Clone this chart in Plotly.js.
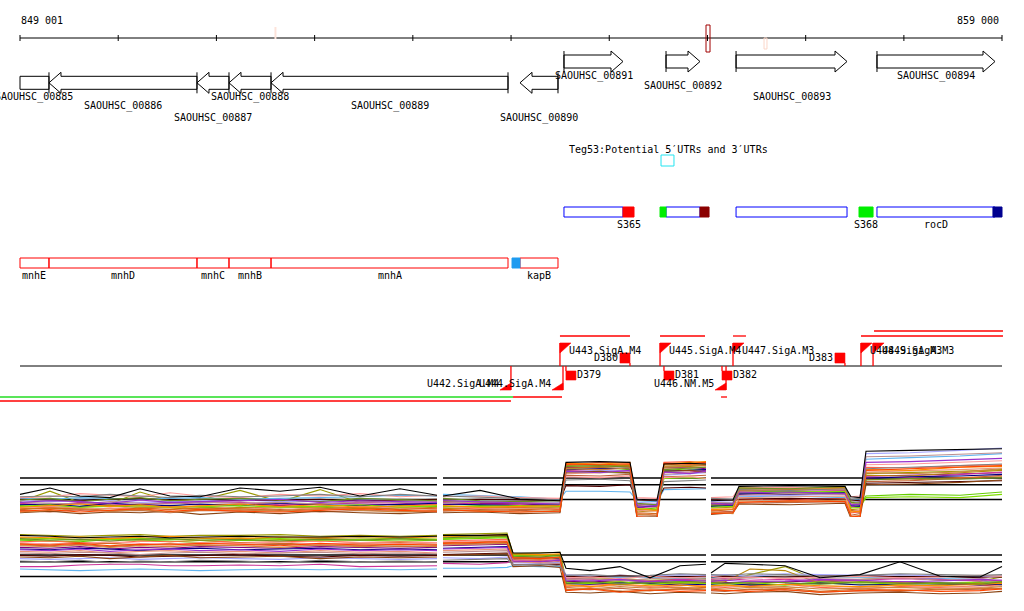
<!DOCTYPE html>
<html><head><meta charset="utf-8">
<script src="https://cdn.plot.ly/plotly-3.0.1.min.js"></script>
<style>html,body{margin:0;padding:0;background:#fff}#chart{width:1024px;height:611px}</style>
</head><body><div id="chart"></div>
<script>
// ================= DATA =================
const viewStart = 849001, viewEnd = 859000;
const rulerTicks = [849001,850001,851001,852001,853001,854001,855001,856001,857001,858001,859000];
const rulerLabels = ['849 001', '859 000'];

// variant / selection marks on the ruler
const siteStart = [851592, 856577, 855986];
const siteEnd   = [851612, 856607, 856027];
const siteKind  = ['snpUp', 'snpDown', 'selected'];

// genes
const geneName   = ['SAOUHSC_00885','SAOUHSC_00886','SAOUHSC_00887','SAOUHSC_00888','SAOUHSC_00889','SAOUHSC_00890','SAOUHSC_00891','SAOUHSC_00892','SAOUHSC_00893','SAOUHSC_00894'];
const geneSymbol = ['mnhE','mnhD','mnhC','mnhB','mnhA','kapB','','','','rocD'];
const geneStart  = [848850, 849296, 850803, 851129, 851557, 854092, 854540, 855579, 856292, 857727];
const geneEnd    = [849296, 850803, 851129, 851557, 853970, 854479, 855141, 855925, 857422, 858929];
const geneStrand = ['-','-','-','-','-','-','+','+','+','+'];

// UTRs
const utrName   = ['', 'S365', '', '', 'S368', ''];
const utrStart  = [854011, 855141, 855518, 855925, 857544, 858908];
const utrEnd    = [854092, 855253, 855579, 856017, 857687, 859000];
const utrStrand = ['-', '+', '+', '+', '+', '+'];

// sRNA Teg53
const srnaTitle = 'Teg53:Potential 5\u2032UTRs and 3\u2032UTRs';
const srnaStart = 855528, srnaEnd = 855660;

// promoters & terminators
const promName   = ['U442.SigA.M4','U443.SigA.M4','U444.SigA.M4','U445.SigA.M4','U446.NM.M5','U447.SigA.M3','U448.SigA.M3','U449.SigA.M3'];
const promPos    = [854000, 854499, 854530, 855518, 856190, 856261, 857564, 857687];
const promStrand = ['-','+','-','+','-','+','+','+'];
const termName   = ['D379','D380','D381','D382','D383'];
const termPos    = [854560, 855212, 855558, 856149, 857401];
const termStrand = ['-','+','-','-','+'];

// transcription units
const tuStart  = [854499, 855518, 856261, 857564, 857697, 848797, 854021, 856139, 848797];
const tuEnd    = [855212, 855976, 856393, 859010, 859010, 854021, 854520, 856200, 854000];
const tuStrand = ['+','+','+','+','+','-','-','-','-'];
const tuLane   = [0,0,0,0,1,0,0,0,1];
const tuClass  = ['pred','pred','pred','pred','pred','known','pred','pred','pred'];

// expression profiles (log2 level), condition panels A and B
const thresholds = [9.25, 8.4, 6.55];
const breakStart = [853247, 855986];
const breakEnd   = [853308, 856037];
const exprXA = [849001,849306,849612,849917,850223,850528,850834,851241,851648,852056,852463,852870,853247,null,
  853308,853685,854092,854499,854560,854907,855212,855283,855487,855558,855823,855986,null,
  856037,856261,856322,856841,857401,857462,857554,857615,858063,858572,859000];
const A01 = [7.2,8.0,7.0,6.8,7.9,7.0,6.9,8.0,7.6,8.1,7.0,7.9,7.1,null, 7.0,7.7,6.6,6.4, 11.2,11.3,11.2, 6.6,6.5, 11.0,11.1,11.0,null, 6.4,6.5, 8.2,8.3,8.2, 6.9,6.8, 12.6,12.7,12.8,12.9];
const A02 = [6.3,7.6,6.2,6.0,7.5,6.4,6.5,7.7,6.3,7.8,6.2,6.6,6.5,null, 6.3,6.2,6.1,6.0, 11.0,10.9,10.8, 5.8,5.6, 10.7,10.8,10.9,null, 6.1,6.2, 8.1,8.0,7.9, 6.3,6.2, 9.8,9.9,10.1,10.3];
const A03 = [5.8,5.6,5.7,5.9,5.5,5.8,5.6,5.5,5.7,5.6,5.4,5.8,5.7,null, 5.6,5.8,5.7,5.9, 10.4,10.6,10.3, 5.3,5.5, 10.2,10.4,10.3,null, 5.8,5.9, 7.5,7.6,7.4, 5.6,5.8, 7.0,7.2,7.1,7.5];
const A04 = [5.4,5.6,5.2,5.5,5.3,5.7,5.4,5.2,5.6,5.5,5.3,5.6,5.4,null, 5.5,5.4,5.6,5.3, 10.9,11.2,11.1, 4.8,4.6, 11.2,11.3,11.1,null, 5.2,5.0, 6.6,6.5,6.7, 4.9,5.0, 10.6,10.5,10.8,10.9];
const A05 = [6.0,5.9,6.1,5.8,6.0,6.2,5.9,6.0,5.8,6.1,6.0,5.9,6.0,null, 5.9,6.1,6.0,5.8, 10.6,10.5,10.4, 5.9,6.0, 10.5,10.6,10.4,null, 6.0,5.9, 7.2,7.4,7.3, 6.0,5.9, 9.5,9.6,9.8,9.9];
const A06 = [6.7,6.6,6.8,6.7,6.6,6.7,6.8,6.6,6.7,6.8,6.9,7.1,7.0,null, 7.2,7.1,6.9,6.6, 7.6,7.6,7.5, 6.4,6.3, 7.8,7.9,7.9,null, 6.5,6.6, 6.9,7.0,6.8, 6.6,6.5, 11.6,11.8,12.0,12.3];
const A07 = [6.1,5.8,6.2,6.0,5.9,6.1,6.3,6.2,5.9,6.0,6.2,6.1,5.9,null, 6.2,6.0,5.9,5.7, 10.2,10.3,10.1, 5.5,5.7, 9.9,10.0,10.2,null, 5.9,6.0, 7.6,7.8,7.7, 5.7,5.6, 9.4,9.3,9.7,10.0];
const A08 = [6.4,6.3,6.5,6.4,6.2,6.3,6.4,6.5,6.3,6.4,6.5,6.6,6.4,null, 6.6,6.5,6.3,6.2, 10.0,10.2,10.1, 6.2,6.1, 9.6,9.8,9.9,null, 6.3,6.2, 7.0,7.1,7.2, 6.2,6.3, 12.3,12.4,12.7,13.0];
const A09 = [5.2,5.0,5.3,5.1,5.2,4.9,5.2,5.1,5.3,5.0,5.2,5.1,5.0,null, 5.1,5.3,5.2,5.0, 9.6,9.5,9.7, 4.5,4.5, 9.4,9.5,9.6,null, 4.9,5.1, 6.1,6.2,6.3, 4.6,4.8, 8.8,8.9,9.2,9.6];
const A10 = [5.5,5.4,5.6,5.8,5.6,5.5,5.3,5.6,5.5,5.7,5.5,5.4,5.6,null, 5.4,5.6,5.5,5.6, 10.8,10.7,10.9, 5.0,5.2, 10.6,10.7,10.8,null, 5.5,5.6, 7.9,8.0,8.1, 5.3,5.4, 9.6,9.5,9.9,10.2];
const A11 = [5.9,6.0,5.7,6.1,5.9,5.8,6.0,5.8,6.1,5.9,5.8,6.0,6.1,null, 6.0,5.9,5.8,5.9, 10.3,10.4,10.5, 5.6,5.8, 10.1,10.2,10.3,null, 5.7,5.8, 7.3,7.2,7.4, 5.8,5.7, 9.2,9.4,9.5,9.7];
const A12 = [6.6,6.5,6.4,6.6,6.7,6.5,6.6,6.4,6.5,6.6,6.4,6.5,6.6,null, 6.5,6.6,6.5,6.4, 8.3,8.2,8.4, 6.5,6.4, 8.0,8.1,8.0,null, 6.6,6.5, 6.6,6.7,6.6, 6.5,6.4, 8.6,8.7,8.8,8.9];
const A13 = [5.6,5.7,5.5,5.4,5.7,5.6,5.8,5.4,5.6,5.3,5.7,5.5,5.3,null, 5.7,5.5,5.4,5.5, 9.8,9.9,10.0, 5.2,5.1, 10.4,10.5,10.6,null, 5.4,5.3, 6.8,6.9,7.0, 5.1,5.2, 10.0,10.1,10.3,10.5];
const A14 = [5.3,5.5,5.4,5.2,5.5,5.3,5.5,5.4,5.2,5.4,5.6,5.3,5.5,null, 5.3,5.2,5.3,5.4, 10.5,10.6,10.7, 4.9,4.8, 10.9,11.0,10.8,null, 5.1,5.3, 7.7,7.8,7.9, 5.2,5.0, 9.1,9.0,9.3,9.4];
const A15 = [6.2,6.1,6.0,6.3,6.1,6.0,6.2,6.1,6.2,6.0,6.3,6.2,6.3,null, 6.1,6.3,6.2,6.1, 9.9,10.0,9.8, 6.0,5.9, 9.7,9.9,10.0,null, 6.2,6.1, 7.1,7.3,7.2, 6.1,6.0, 11.9,12.0,12.2,12.4];
const A16 = [5.7,5.9,5.6,5.7,5.8,5.6,5.7,5.8,5.6,5.7,5.9,5.6,5.8,null, 5.7,5.7,5.8,5.7, 10.1,10.0,9.9, 5.4,5.3, 9.2,9.3,9.2,null, 5.6,5.7, 7.4,7.5,7.6, 5.5,5.6, 6.8,6.9,6.8,7.2];
const A17 = [6.8,6.9,7.3,7.1,6.9,7.4,7.0,6.8,7.2,7.0,7.3,6.9,7.1,null, 6.9,7.0,6.8,6.7, 9.4,9.3,9.5, 6.8,6.7, 9.3,9.4,9.2,null, 6.8,6.9, 8.0,8.1,7.9, 6.9,7.0, 10.9,11.0,11.2,11.4];
const A18 = [4.9,5.1,4.8,5.0,4.9,5.1,4.7,5.0,4.8,5.1,4.9,4.8,5.0,null, 4.9,5.0,4.8,4.9, 10.0,10.1,9.9, 4.3,4.4, 10.1,10.2,10.0,null, 4.7,4.9, 6.0,5.9,6.1, 4.2,4.3, 8.4,8.5,8.7,9.0];
const A19 = [5.6,5.8,6.0,5.7,5.9,5.6,5.8,6.0,5.7,5.9,5.6,5.8,5.9,null, 5.8,5.6,5.7,5.8, 11.1,11.0,11.2, 5.4,5.2, 11.0,11.2,11.3,null, 5.3,5.4, 7.8,7.7,8.0, 5.0,5.1, 10.3,10.2,10.6,10.7];
const A20 = [6.5,6.7,6.3,6.6,6.8,6.4,6.6,6.7,6.5,6.3,6.7,6.5,6.4,null, 6.7,6.4,6.3,6.4, 10.7,10.8,10.6, 6.1,5.9, 10.3,10.5,10.6,null, 6.0,6.1, 8.0,7.9,8.2, 6.2,6.1, 9.0,9.2,9.1,9.3];
const A21 = [6.2,6.4,6.3,6.1,6.5,6.2,6.3,6.4,6.6,6.2,6.4,6.3,6.2,null, 6.4,6.3,6.2,6.0, 10.1,9.9,10.2, 5.7,5.8, 10.0,9.8,10.1,null, 6.1,6.0, 7.4,7.5,7.3, 5.9,6.0, 11.2,11.3,11.5,11.7];
const A22 = [5.0,5.2,5.4,5.1,5.3,5.0,5.2,5.3,5.1,5.4,5.2,5.0,5.2,null, 5.2,5.1,5.0,5.2, 10.4,10.3,10.5, 4.7,4.6, 10.7,10.8,10.9,null, 5.0,4.8, 6.4,6.3,6.5, 4.4,4.6, 9.9,9.8,10.0,10.4];
const A23 = [5.1,5.3,5.0,5.2,5.4,5.1,5.3,5.1,5.0,5.2,5.4,5.2,5.1,null, 5.3,5.1,5.0,5.1, 11.0,10.9,11.0, 4.4,4.2, 11.1,11.0,11.2,null, 4.8,4.9, 6.2,6.4,6.3, 4.5,4.4, 10.2,10.4,10.6,10.8];
const A24 = [6.9,7.0,6.9,7.2,7.0,6.8,7.1,6.9,7.0,7.2,6.9,7.2,7.0,null, 7.0,6.9,6.7,6.5, 9.0,9.1,8.9, 6.6,6.5, 8.8,8.9,9.0,null, 6.7,6.6, 7.8,7.7,7.9, 6.6,6.7, 10.4,10.6,10.8,11.0];

const exprXB = [849001,849306,849612,849917,850223,850528,850834,851241,851648,852056,852463,852870,853247,null,
  853308,853685,853960,854021,854296,854499,854560,854805,855110,855416,855721,855986,null,
  856037,856180,856434,856790,857147,857554,857961,858369,858776,859000];
const B01 = [11.7,11.6,11.4,11.5,11.6,11.4,11.5,11.6,11.5,11.5,11.6,11.5,11.6,null, 11.7,11.7,11.8, 9.5,9.5,9.6, 7.6,7.3,7.8,6.4,7.9,8.1,null, 7.0,8.2,8.1,7.9,6.4,6.8,8.4,6.6,6.5,7.8];
const B02 = [11.8,11.7,11.6,11.7,11.8,11.6,11.7,11.7,11.8,11.6,11.7,11.6,11.7,null, 11.8,11.9,12.0, 9.4,9.5,9.6, 6.2,6.4,6.3,6.1,6.2,6.3,null, 6.1,6.0,6.8,7.8,6.0,6.2,6.4,6.1,6.0,6.5];
const B03 = [11.1,11.0,10.9,11.2,11.1,11.0,10.8,11.1,11.0,11.2,11.1,11.0,11.1,null, 11.2,11.3,11.4, 9.0,9.2,9.1, 6.0,5.8,6.1,5.9,6.0,5.8,null, 5.5,5.4,5.6,5.5,5.7,5.6,5.4,5.5,5.7,5.6];
const B04 = [10.9,11.0,10.8,10.7,11.0,10.9,11.1,10.8,10.9,11.0,10.8,10.9,10.8,null, 11.0,11.1,11.2, 8.9,8.8,8.7, 5.3,5.5,5.6,5.2,5.4,5.5,null, 5.3,5.2,5.4,5.6,5.2,5.0,5.3,5.2,5.4,5.5];
const B05 = [10.2,10.1,10.3,10.0,10.2,10.1,10.3,10.2,10.1,10.3,10.2,10.1,10.2,null, 10.4,10.5,10.6, 8.4,8.5,8.4, 5.9,6.0,5.8,5.9,5.7,5.8,null, 5.9,5.8,5.7,5.9,6.0,5.8,5.9,5.7,5.8,5.9];
const B06 = [7.5,7.4,7.3,7.4,7.5,7.4,7.3,7.4,7.5,7.4,7.5,7.4,7.5,null, 7.6,7.6,7.7, 7.9,7.8,7.8, 6.5,6.6,6.4,6.5,6.3,6.4,null, 6.4,6.6,6.5,6.4,6.6,6.5,6.4,6.3,6.2,5.4];
const B07 = [7.8,7.8,8.0,8.1,8.1,7.9,7.9,8.0,7.9,8.1,7.8,7.9,7.9,null, 8.2,8.1,8.3, 8.6,8.5,8.7, 6.3,6.2,6.1,6.0,6.2,6.1,null, 6.2,6.3,6.1,6.2,6.0,6.1,6.3,6.2,6.0,6.1];
const B08 = [8.8,8.7,8.8,8.9,8.7,8.8,8.9,8.8,8.7,8.9,8.8,8.7,8.8,null, 8.9,8.8,9.0, 8.3,8.2,8.3, 6.8,6.6,6.7,6.6,6.8,6.7,null, 6.7,6.8,6.6,6.9,6.8,6.7,6.8,6.6,6.5,6.6];
const B09 = [10.5,10.4,10.6,10.3,10.5,10.6,10.4,10.5,10.6,10.4,10.5,10.3,10.4,null, 10.6,10.7,10.8, 8.7,8.6,8.8, 5.0,4.9,5.1,4.8,5.0,4.9,null, 4.8,4.7,5.0,4.9,4.6,4.8,4.7,5.0,4.9,5.1];
const B10 = [11.4,11.3,11.2,11.3,11.4,11.2,11.3,11.4,11.2,11.3,11.4,11.3,11.2,null, 11.5,11.6,11.7, 9.3,9.2,9.3, 5.6,5.7,5.9,5.6,5.8,5.7,null, 5.8,5.9,7.5,7.3,5.7,5.9,5.8,5.6,5.7,5.8];
const B11 = [10.0,9.9,10.1,10.0,9.8,10.0,10.1,9.9,10.0,10.1,9.9,10.0,9.9,null, 10.1,10.2,10.3, 8.8,8.9,8.8, 5.7,5.6,5.8,5.7,5.5,5.6,null, 5.6,5.7,5.5,5.6,5.8,5.5,5.6,5.7,5.5,5.6];
const B12 = [9.2,9.1,9.3,9.2,9.0,9.1,9.2,9.3,9.1,9.0,9.2,9.1,9.2,null, 9.3,9.4,9.5, 8.1,8.0,8.1, 6.6,6.5,6.7,6.6,6.5,6.6,null, 6.5,6.6,6.4,6.5,6.6,6.7,6.5,6.6,6.4,6.5];
const B13 = [9.7,9.6,9.8,9.5,9.7,9.8,9.6,9.7,9.5,9.8,9.6,9.7,9.5,null, 9.8,9.9,10.0, 8.4,8.3,8.5, 5.4,5.2,5.5,5.3,5.1,5.4,null, 5.2,5.4,5.3,5.1,5.4,5.2,5.5,5.3,5.2,5.4];
const B14 = [10.7,10.6,10.8,10.7,10.5,10.7,10.6,10.8,10.7,10.6,10.7,10.8,10.6,null, 10.8,10.9,11.0, 8.9,9.0,8.9, 4.9,5.1,4.7,4.8,5.0,5.2,null, 5.0,4.8,4.9,5.1,4.7,5.0,4.8,4.9,5.1,5.0];
const B15 = [9.5,9.4,9.6,9.5,9.3,9.5,9.6,9.4,9.5,9.6,9.4,9.5,9.4,null, 9.6,9.7,9.8, 8.0,8.1,8.2, 6.2,6.3,6.0,6.3,6.4,6.2,null, 6.3,6.2,6.4,6.5,6.3,6.2,6.4,6.1,6.3,6.6];
const B16 = [11.2,11.3,11.1,11.2,11.3,11.2,11.1,11.2,11.3,11.1,11.2,11.3,11.2,null, 11.3,11.4,11.5, 9.2,9.3,9.2, 5.8,5.7,5.9,5.6,5.8,5.7,null, 5.7,5.6,5.8,5.5,5.9,5.8,5.6,5.7,5.8,5.9];
const B17 = [10.8,10.6,10.7,10.9,10.7,10.6,10.8,10.7,10.9,10.6,10.8,10.7,10.8,null, 10.9,11.0,11.1, 8.6,8.7,8.6, 6.4,6.5,6.3,6.6,6.4,6.5,null, 6.6,6.4,6.5,6.3,6.5,6.6,6.4,6.5,6.7,6.6];
const B18 = [9.0,8.9,9.1,8.8,9.0,9.2,8.9,9.0,9.1,8.8,9.0,8.9,9.0,null, 9.2,9.3,9.4, 7.8,7.9,7.7, 4.6,4.5,4.7,4.4,4.6,4.5,null, 4.5,4.4,4.6,4.7,4.3,4.5,4.6,4.4,4.5,4.7];
const B19 = [11.5,11.4,11.5,11.3,11.5,11.6,11.4,11.3,11.5,11.4,11.6,11.4,11.5,null, 11.6,11.7,11.8, 9.4,9.3,9.4, 5.5,5.3,5.6,5.4,5.5,5.3,null, 5.4,5.5,5.3,5.6,5.4,5.3,5.5,5.4,5.6,5.7];
const B20 = [11.3,11.1,11.2,11.0,11.2,11.3,11.1,11.2,11.0,11.2,11.1,11.3,11.1,null, 11.4,11.5,11.6, 9.1,9.0,9.2, 5.7,5.9,5.6,5.8,5.9,6.0,null, 5.8,5.7,5.9,5.8,5.6,5.9,5.7,5.8,5.6,5.9];
const B21 = [9.9,9.8,10.0,9.7,9.9,10.0,9.8,9.9,9.7,10.0,9.8,9.9,9.8,null, 10.0,10.1,10.2, 8.5,8.4,8.6, 6.1,6.0,6.2,5.9,6.1,6.0,null, 6.0,6.1,5.9,6.0,6.2,6.1,5.9,6.0,6.2,6.1];
const B22 = [10.4,10.3,10.5,10.2,10.4,10.3,10.5,10.4,10.2,10.5,10.3,10.4,10.3,null, 10.5,10.6,10.7, 8.8,8.7,8.9, 5.2,5.0,5.3,5.1,5.2,5.0,null, 5.1,5.0,5.2,5.3,5.0,5.1,5.2,5.0,5.1,5.3];
const B23 = [10.6,10.5,10.7,10.4,10.6,10.5,10.7,10.6,10.4,10.7,10.5,10.6,10.5,null, 10.7,10.8,10.9, 8.9,8.8,9.0, 4.8,5.0,4.6,4.9,4.7,4.8,null, 4.9,4.8,4.7,4.9,4.6,4.8,4.9,4.7,4.8,5.0];
const B24 = [8.5,8.4,8.6,8.3,8.5,8.4,8.6,8.5,8.3,8.6,8.4,8.5,8.4,null, 8.6,8.7,8.8, 8.0,8.1,7.9, 6.7,6.8,6.6,6.7,6.9,6.8,null, 6.8,6.7,6.9,6.8,6.6,6.7,6.9,6.8,6.7,6.8];

// ================= LAYOUT / STYLE =================
const BP = (viewEnd - viewStart) / 982;       // bp per screen pixel
const xLeft = viewStart - 20 * BP, xRight = viewStart + 1004 * BP;
const FONT = {family: 'DejaVu Sans Mono, monospace', size: 10, color: '#000'};
const R = {rulerLabel: 20, ruler: 38, tick: [35, 41],
  plusRow: 61.5, minusRow: 82.8, bodyHalf: 6.5, headHalf: 10.5, headLen: 12,
  srnaLabel: 149, srnaBox: [155, 166],
  plusTrack: [207, 217], plusLabel: 224.5, minusTrack: [258, 268], minusLabel: 275,
  base: 366, upLanes: [336, 331], downLanes: [397, 401]};
const geneLabelY = [97, 106, 118, 97, 106, 118, 76, 86, 97, 76];
const siteStyle = {snpUp: {y: [27, 39], line: null, fill: '#fde3da'},
                   snpDown: {y: [38, 49], line: '#fbd6c8', fill: null},
                   selected: {y: [25, 52], line: '#a00000', fill: null}};
const utrColor = ['#1e9bf0', '#ff0000', '#00ee00', '#8b0000', '#00ee00', '#000090'];
const palette = ['#000000','#999900','#66cc00','#ff6347','#800080','#5fb4f0','#cc3399','#a6a6ff',
                 '#c0603c','#b8860b','#000080','#4d0000','#e9967a','#d2691e','#bc8f8f','#7fdd00',
                 '#ff9999','#8b4513','#ff8c00','#6b8e23','#9932cc','#cd853f','#ff4500','#808080'];

const traces = [], shapes = [], anns = [];
function ann(x, y, text, xa) {
  anns.push({x, y, xref: 'x', yref: 'y', text, showarrow: false, xanchor: xa || 'center',
             yanchor: 'middle', font: FONT, borderpad: 0});
}
function rect(x0, x1, y0, y1, line, fill) {
  shapes.push({type: 'rect', xref: 'x', yref: 'y', x0, x1, y0, y1,
    line: {color: line || 'rgba(0,0,0,0)', width: line ? 1 : 0}, fillcolor: fill || 'rgba(0,0,0,0)'});
}
function lineTrace(xs, ys, color, width, yaxis) {
  traces.push({type: 'scatter', mode: 'lines', x: xs, y: ys, yaxis: yaxis || 'y',
    line: {color, width: width || 1}, hoverinfo: 'skip', showlegend: false, connectgaps: false});
}
function fillTrace(xs, ys, color) {
  traces.push({type: 'scatter', mode: 'lines', x: xs, y: ys, fill: 'toself', fillcolor: color,
    line: {color, width: 0.6}, hoverinfo: 'skip', showlegend: false});
}

// ruler
lineTrace([viewStart, viewEnd], [R.ruler, R.ruler], '#000', 1);
{
  const tx = [], ty = [];
  rulerTicks.forEach(t => { tx.push(t, t, null); ty.push(R.tick[0], R.tick[1], null); });
  lineTrace(tx, ty, '#000', 1);
}
ann(viewStart, R.rulerLabel, rulerLabels[0], 'left');
ann(viewEnd - 2 * BP, R.rulerLabel, rulerLabels[1], 'right');
siteKind.forEach((k, i) => {
  const st = siteStyle[k];
  rect(siteStart[i], siteEnd[i], st.y[0], st.y[1], st.line, st.fill);
});

// gene arrows
{
  const gx = [], gy = [];
  geneName.forEach((n, i) => {
    const s0 = geneStart[i], e0 = geneEnd[i], plus = geneStrand[i] === '+';
    const s = Math.max(s0, viewStart), e = Math.min(e0, viewEnd);
    const yc = plus ? R.plusRow : R.minusRow, bh = R.bodyHalf, hh = R.headHalf, hl = R.headLen * BP;
    const tipVisible = plus ? e0 <= viewEnd : s0 >= viewStart;
    let xs, ys;
    if (!tipVisible) { xs = [s, e, e, s, s]; ys = [yc - bh, yc - bh, yc + bh, yc + bh, yc - bh]; }
    else if (plus) { xs = [s, e - hl, e - hl, e, e - hl, e - hl, s, s]; ys = [yc - bh, yc - bh, yc - hh, yc, yc + hh, yc + bh, yc + bh, yc - bh]; }
    else { xs = [e, s + hl, s + hl, s, s + hl, s + hl, e, e]; ys = [yc - bh, yc - bh, yc - hh, yc, yc + hh, yc + bh, yc + bh, yc - bh]; }
    const tail = plus ? s : e;
    gx.push(...xs, null, tail, tail, null); gy.push(...ys, null, yc - hh, yc + hh, null);
    ann((s + e) / 2, geneLabelY[i], n, 'center');
    if (plus) {
      rect(s, e, R.plusTrack[0], R.plusTrack[1], '#0000ff', null);
      if (geneSymbol[i]) ann((s + e) / 2, R.plusLabel, geneSymbol[i], 'center');
    } else {
      rect(s, e, R.minusTrack[0], R.minusTrack[1], '#ff0000', null);
      if (geneSymbol[i]) ann((s + e) / 2, R.minusLabel, geneSymbol[i], 'center');
    }
  });
  lineTrace(gx, gy, '#000', 1);
}
// UTRs
utrName.forEach((n, i) => {
  const trk = utrStrand[i] === '+' ? R.plusTrack : R.minusTrack;
  rect(utrStart[i], utrEnd[i], trk[0], trk[1], utrColor[i], utrColor[i]);
  if (n) ann((utrStart[i] + utrEnd[i]) / 2, utrStrand[i] === '+' ? R.plusLabel : R.minusLabel, n, 'center');
});
// sRNA
ann(viewStart + 548 * BP, R.srnaLabel, srnaTitle, 'left');
rect(srnaStart, srnaEnd, R.srnaBox[0], R.srnaBox[1], '#22e4f0', null);

// promoter / terminator track
lineTrace([viewStart, viewEnd], [R.base, R.base], '#000', 1);
tuStart.forEach((s, i) => {
  const y = tuStrand[i] === '+' ? R.upLanes[tuLane[i]] : R.downLanes[tuLane[i]];
  lineTrace([s, tuEnd[i]], [y, y], tuClass[i] === 'known' ? '#22dd22' : '#ff0000', 1.3);
});
{
  const px = [], py = [], sx = [], sy = [];
  promPos.forEach((p, i) => {
    const w = 11 * BP;
    if (promStrand[i] === '+') {
      px.push(p, p + w, p, p, null); py.push(343, 343, 353, 343, null);
      sx.push(p, p, null); sy.push(343, R.base, null);
      ann(p + 8 * BP, 350, promName[i], 'left');
    } else {
      px.push(p, p - w, p, p, null); py.push(390, 390, 383, 390, null);
      sx.push(p, p, null); sy.push(R.base, 390, null);
      ann(p - 11 * BP, 383, promName[i], 'right');
    }
  });
  termPos.forEach((t, i) => {
    const w = 10 * BP;
    if (termStrand[i] === '+') {
      px.push(t - w, t, t, t - w, t - w, null); py.push(353, 353, 363, 363, 353, null);
      sx.push(t, t, null); sy.push(363, R.base, null);
      ann(t - 11 * BP, 357, termName[i], 'right');
    } else {
      px.push(t, t + w, t + w, t, t, null); py.push(371, 371, 380, 380, 371, null);
      sx.push(t, t, null); sy.push(R.base, 371, null);
      ann(t + 10 * BP, 374, termName[i], 'left');
    }
  });
  lineTrace(sx, sy, '#ff0000', 1.3);
  fillTrace(px, py, '#ff0000');
}

// expression panels
function panel(xs, series, yaxis) {
  const tx = [viewStart, breakStart[0], null, breakEnd[0], breakStart[1], null, breakEnd[1], viewEnd];
  thresholds.forEach(t => lineTrace(tx, tx.map(v => v === null ? null : t), '#000', 1.5, yaxis));
  const order = series.map((_, i) => i).slice(1).concat([0]);
  order.forEach(i => lineTrace(xs, series[i], palette[i], 1.1, yaxis));
}
panel(exprXA, [A01,A02,A03,A04,A05,A06,A07,A08,A09,A10,A11,A12,A13,A14,A15,A16,A17,A18,A19,A20,A21,A22,A23,A24], 'y2');
panel(exprXB, [B01,B02,B03,B04,B05,B06,B07,B08,B09,B10,B11,B12,B13,B14,B15,B16,B17,B18,B19,B20,B21,B22,B23,B24], 'y3');

const H = 611;
const layout = {
  width: 1024, height: 611, margin: {l: 0, r: 0, t: 0, b: 0},
  paper_bgcolor: '#fff', plot_bgcolor: '#fff', showlegend: false, hovermode: false,
  xaxis: {range: [xLeft, xRight], visible: false, fixedrange: true},
  yaxis: {range: [H, 0], visible: false, fixedrange: true, domain: [0, 1]},
  yaxis2: {range: [4, 14], visible: false, anchor: 'x', domain: [(H - 520) / H, (H - 440) / H]},
  yaxis3: {range: [4, 14], visible: false, anchor: 'x', domain: [(H - 597) / H, (H - 517) / H]},
  shapes, annotations: anns
};
Plotly.newPlot('chart', traces, layout, {staticPlot: true, displayModeBar: false});
</script>
</body></html>
